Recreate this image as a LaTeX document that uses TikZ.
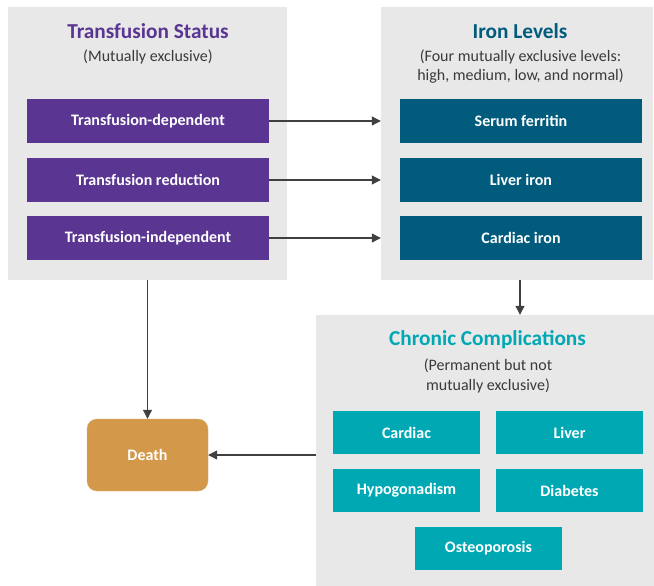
\documentclass[tikz,border=0pt]{standalone}
\usepackage{fontspec}
\setmainfont{Carlito}
\usetikzlibrary{arrows.meta,calc}
\definecolor{panelgray}{HTML}{E8E8E8}
\definecolor{statpurple}{HTML}{5A3591}
\definecolor{ironblue}{HTML}{005B7D}
\definecolor{compteal}{HTML}{00A8B4}
\definecolor{deathgold}{HTML}{D3984A}
\definecolor{subgray}{HTML}{3A3A3A}
\begin{document}
\begin{tikzpicture}[x=1pt,y=-1pt,
  panel/.style={fill=panelgray,draw=none,inner sep=0pt},
  headline/.style={font=\fontsize{21.3}{25}\selectfont\bfseries},
  subline/.style={font=\fontsize{16}{19.5}\selectfont,text=subgray,align=center},
  statbox/.style={fill=statpurple,text=white,font=\fontsize{16}{19}\selectfont\bfseries,minimum width=242pt,minimum height=44pt,inner sep=0pt},
  ironbox/.style={statbox,fill=ironblue},
  compbox/.style={statbox,fill=compteal,minimum width=147pt,minimum height=43pt},
  link/.style={draw=black!75,line width=1.1pt,-{Triangle[length=9pt,width=9pt]}}]
  \useasboundingbox (0,0) rectangle (654,586);
  %Panels
  \node[panel,minimum width=279pt,minimum height=273pt] (status) at (147.5,143.5) {};
  \node[panel,minimum width=272pt,minimum height=273pt] (iron) at (517,143.5) {};
  \node[panel,minimum width=338pt,minimum height=271pt] (chronic) at (485,450.5) {};
  %Headings
  \node[headline,text=statpurple] (statushead) at (148,31) {Transfusion Status};
  \node[subline] (statussub) at (148,57) {(Mutually exclusive)};
  \node[headline,text=ironblue] (ironhead) at (520,31) {Iron Levels};
  \node[subline] (ironsub) at (520.5,66.5) {(Four mutually exclusive levels:\\high, medium, low, and normal)};
  \node[headline,text=compteal] (chronichead) at (487.5,340) {Chronic Complications};
  \node[subline] (chronicsub) at (488,376) {(Permanent but not\\mutually exclusive)};
  %Transfusion states
  \node[statbox] (dependent) at (148,121) {Transfusion-dependent};
  \node[statbox] (reduction) at (148,180) {Transfusion reduction};
  \node[statbox] (independent) at (148,238) {Transfusion-independent};
  %Iron measures
  \node[ironbox] (ferritin) at (521,121) {Serum ferritin};
  \node[ironbox] (liveriron) at (521,180) {Liver iron};
  \node[ironbox] (cardiron) at (521,238) {Cardiac iron};
  %Complications
  \node[compbox] (cardiac) at (406.5,432.5) {Cardiac};
  \node[compbox] (liver) at (569.5,432.5) {Liver};
  \node[compbox] (hypogon) at (406.5,490.5) {Hypogonadism};
  \node[compbox] (diabetes) at (569.5,490.5) {Diabetes};
  \node[compbox] (osteo) at (488.5,548.5) {Osteoporosis};
  %Absorbing state
  \node[fill=deathgold,draw=deathgold!80!white,rounded corners=10pt,minimum width=121pt,minimum height=72pt,text=white,font=\fontsize{16}{19}\selectfont\bfseries] (death) at (147.5,455) {Death};
  %Transitions
  \draw[link] (dependent.east) -- (dependent.east -| iron.west);
  \draw[link] (reduction.east) -- (reduction.east -| iron.west);
  \draw[link] (independent.east) -- (independent.east -| iron.west);
  \draw[link] ($(iron.south)+(3,0)$) -- ($(iron.south |- chronic.north)+(3,0)$);
  \draw[link] (status.south -| death.north) -- (death.north);
  \draw[link] (chronic.west |- death.east) -- (death.east);
\end{tikzpicture}
\end{document}
